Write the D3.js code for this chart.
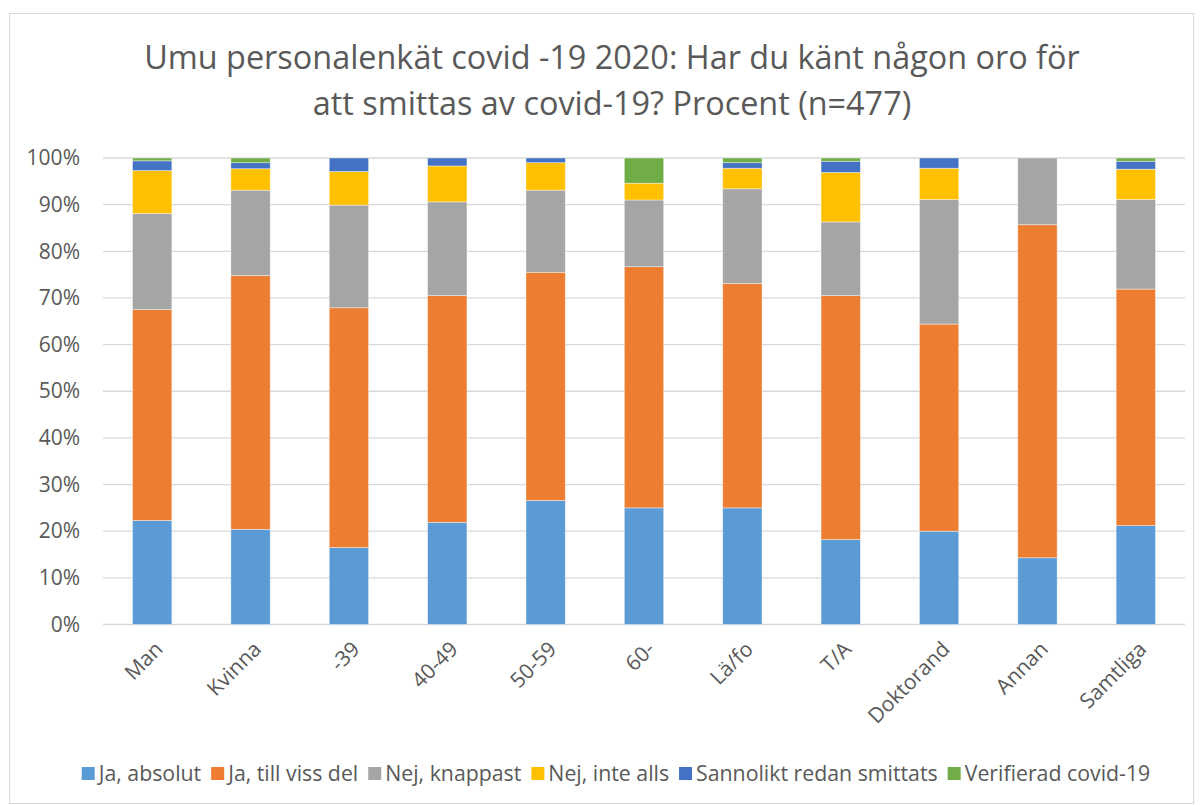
<!DOCTYPE html>
<html>
<head>
<meta charset="utf-8">
<script src="https://cdn.jsdelivr.net/npm/d3@7"></script>
<style>
  body { margin: 0; background: #fff; }
  text { font-family: "Open Sans", "Noto Sans", sans-serif; fill: #595959; }
</style>
</head>
<body>
<svg id="chart"></svg>
<script>
// Data (procent)
let categories = ["Man", "Kvinna", "-39", "40-49", "50-59", "60-", "Lä/fo", "T/A", "Doktorand", "Annan", "Samtliga"];
let seriesNames = ["Ja, absolut", "Ja, till viss del", "Nej, knappast", "Nej, inte alls", "Sannolikt redan smittats", "Verifierad covid-19"];
let jaAbsolut      = [22.3, 20.4, 16.5, 21.9, 26.6, 25.0, 25.0, 18.2, 20.0, 14.3, 21.2];
let jaTillVissDel  = [45.2, 54.4, 51.4, 48.6, 48.9, 51.7, 48.1, 52.3, 44.4, 71.4, 50.7];
let nejKnappast    = [20.6, 18.3, 22.0, 20.1, 17.6, 14.3, 20.3, 15.8, 26.7, 14.3, 19.2];
let nejInteAlls    = [9.2, 4.6, 7.2, 7.7, 5.9, 3.6, 4.4, 10.6, 6.7, 0, 6.5];
let sannolikt      = [2.1, 1.3, 2.9, 1.7, 1.0, 0, 1.2, 2.4, 2.2, 0, 1.7];
let verifierad     = [0.6, 1.0, 0, 0, 0, 5.4, 1.0, 0.7, 0, 0, 0.7];
let yTicks = [0, 10, 20, 30, 40, 50, 60, 70, 80, 90, 100];

let colors = ["#5B9BD5", "#ED7D31", "#A5A5A5", "#FFC000", "#4472C4", "#70AD47"];

// SVG Size
let width = 1203;
let height = 805;

let svg = d3.select("#chart")
    .attr("width", width)
    .attr("height", height);

// chart border
svg.append("rect")
    .attr("x", 9.5).attr("y", 13.5)
    .attr("width", 1184).attr("height", 790)
    .attr("fill", "#fff")
    .attr("stroke", "#D9D9D9");

// Title
let title = svg.append("text")
    .attr("text-anchor", "middle")
    .attr("font-size", 32.4);
title.append("tspan").attr("x", 612).attr("y", 69)
    .text("Umu personalenkät covid -19 2020: Har du känt någon oro för");
title.append("tspan").attr("x", 612).attr("y", 115)
    .text("att smittas av covid-19? Procent (n=477)");

// Scales
let margin = { left: 103, right: 1185, top: 158, bottom: 624.5 };

let x = d3.scaleBand()
    .domain(categories)
    .range([margin.left, margin.right])
    .paddingInner(0.6)
    .paddingOuter(0.3);

let y = d3.scaleLinear()
    .domain([0, 100])
    .range([margin.bottom, margin.top]);

// Gridlines
svg.append("g")
    .selectAll("line")
    .data(yTicks)
    .enter()
    .append("line")
    .attr("x1", margin.left)
    .attr("x2", margin.right)
    .attr("y1", d => y(d))
    .attr("y2", d => y(d))
    .attr("stroke", "#D9D9D9")
    .attr("stroke-width", 1.3);

// Y axis labels
let yAxis = svg.append("g")
    .attr("transform", `translate(${margin.left}, 0)`)
    .call(d3.axisLeft(y).tickValues(yTicks).tickFormat(d => d + "%").tickSize(0).tickPadding(23));
yAxis.select(".domain").remove();
yAxis.selectAll("text")
    .attr("font-size", 21)
    .attr("fill", "#595959")
    .attr("font-family", "Open Sans, sans-serif");

// Stack
let table = categories.map((c, i) => {
    let row = { cat: c };
    [jaAbsolut, jaTillVissDel, nejKnappast, nejInteAlls, sannolikt, verifierad]
        .forEach((s, k) => row[seriesNames[k]] = s[i]);
    return row;
});

let stacked = d3.stack().keys(seriesNames)(table);

let layers = svg.append("g")
    .selectAll("g")
    .data(stacked)
    .enter()
    .append("g")
    .attr("fill", (d, i) => colors[i]);

layers.selectAll("rect")
    .data(d => d.filter(p => p[1] - p[0] > 0))
    .enter()
    .append("rect")
    .attr("x", d => x(d.data.cat))
    .attr("width", x.bandwidth())
    .attr("y", d => y(d[1]))
    .attr("height", d => y(d[0]) - y(d[1]))
    .attr("stroke", "#ffffff")
    .attr("stroke-opacity", 0.5)
    .attr("stroke-width", 0.8);

// X axis labels
let xAxis = svg.append("g")
    .attr("transform", `translate(0, ${margin.bottom})`)
    .call(d3.axisBottom(x).tickSize(0).tickPadding(0));
xAxis.select(".domain").remove();
xAxis.selectAll("text")
    .attr("font-size", 21)
    .attr("fill", "#595959")
    .attr("font-family", "Open Sans, sans-serif")
    .attr("text-anchor", "end")
    .attr("dy", null)
    .attr("transform", "translate(12, 26) rotate(-45)");

// Legend
let legend = svg.append("g");
let items = legend.selectAll("g")
    .data(seriesNames)
    .enter()
    .append("g");

items.append("rect")
    .attr("width", 13).attr("height", 13)
    .attr("y", 767)
    .attr("fill", (d, i) => colors[i]);

items.append("text")
    .attr("x", 17)
    .attr("y", 781)
    .attr("font-size", 21.3)
    .text(d => d);

let offsets = [];
let pos = 0;
items.each(function () {
    let w = this.querySelector("text").getComputedTextLength();
    offsets.push(pos);
    pos += 17 + w + 10;
});
let start = 616 - (pos - 10) / 2;
items.attr("transform", (d, i) => `translate(${start + offsets[i]}, 0)`);
</script>
</body>
</html>
